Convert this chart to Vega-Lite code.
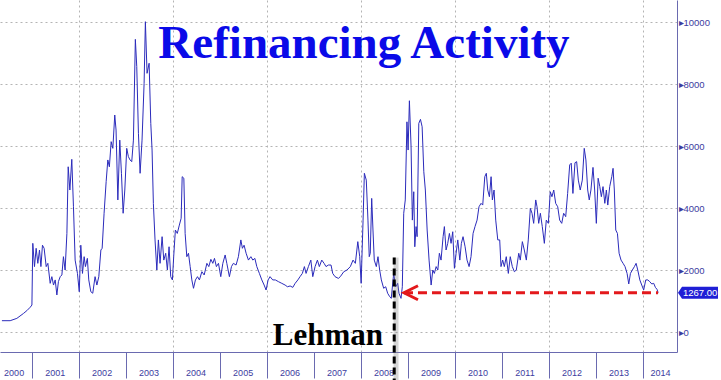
{
  "$schema": "https://vega.github.io/schema/vega-lite/v6.json",
  "width": 677,
  "height": 352,
  "autosize": "none",
  "padding": {"left": 0, "top": 0, "right": 44, "bottom": 28},
  "background": "white",
  "config": {"view": {"stroke": null}},
  "datasets": {
    "refi": [
      {"date":"2000-05-11","index":365},{"date":"2000-07-14","index":365},{"date":"2000-09-04","index":440},{"date":"2000-10-26","index":600},{"date":"2000-11-21","index":690},{"date":"2000-12-17","index":800},{"date":"2000-12-30","index":870},
      {"date":"2001-01-06","index":2860},{"date":"2001-01-19","index":2110},{"date":"2001-02-01","index":2700},{"date":"2001-02-14","index":2215},{"date":"2001-02-27","index":2645},{"date":"2001-03-10","index":2110},{"date":"2001-03-22","index":2800},{"date":"2001-04-04","index":2700},{"date":"2001-04-20","index":2110},{"date":"2001-05-03","index":2215},{"date":"2001-05-21","index":1570},{"date":"2001-06-03","index":1785},{"date":"2001-06-16","index":1515},{"date":"2001-06-29","index":1680},{"date":"2001-07-12","index":1195},{"date":"2001-07-24","index":1625},{"date":"2001-08-07","index":1785},{"date":"2001-08-20","index":1840},{"date":"2001-09-01","index":2430},{"date":"2001-09-14","index":2000},{"date":"2001-09-28","index":3180},{"date":"2001-10-08","index":5330},{"date":"2001-10-21","index":4580},{"date":"2001-11-05","index":5570},{"date":"2001-11-18","index":4040},{"date":"2001-12-01","index":2320},{"date":"2001-12-19","index":1890},
      {"date":"2002-01-02","index":1300},{"date":"2002-01-14","index":2800},{"date":"2002-01-27","index":1890},{"date":"2002-02-09","index":2430},{"date":"2002-02-19","index":2110},{"date":"2002-03-06","index":2375},{"date":"2002-03-17","index":1680},{"date":"2002-04-02","index":1300},{"date":"2002-04-17","index":1250},{"date":"2002-05-05","index":1785},{"date":"2002-05-19","index":1515},{"date":"2002-06-03","index":1785},{"date":"2002-06-19","index":2645},{"date":"2002-06-29","index":2700},{"date":"2002-07-14","index":3830},{"date":"2002-07-30","index":4850},{"date":"2002-08-12","index":5550},{"date":"2002-08-24","index":5330},{"date":"2002-09-07","index":6140},{"date":"2002-09-20","index":5925},{"date":"2002-10-05","index":7000},{"date":"2002-10-15","index":6515},{"date":"2002-10-29","index":4260},{"date":"2002-11-13","index":6190},{"date":"2002-11-26","index":5120},{"date":"2002-12-09","index":3830},{"date":"2002-12-22","index":4580},
      {"date":"2003-01-06","index":5925},{"date":"2003-01-19","index":5655},{"date":"2003-02-01","index":5550},{"date":"2003-02-14","index":5495},{"date":"2003-02-27","index":6190},{"date":"2003-03-14","index":9440},{"date":"2003-03-25","index":8560},{"date":"2003-04-07","index":6410},{"date":"2003-04-20","index":5120},{"date":"2003-05-05","index":6190},{"date":"2003-05-21","index":8020},{"date":"2003-05-31","index":10010},{"date":"2003-06-13","index":8345},{"date":"2003-06-29","index":8670},{"date":"2003-07-12","index":6730},{"date":"2003-07-22","index":5870},{"date":"2003-08-01","index":4150},{"date":"2003-08-14","index":2970},{"date":"2003-08-28","index":2000},{"date":"2003-09-09","index":2970},{"date":"2003-09-22","index":2215},{"date":"2003-10-08","index":3075},{"date":"2003-10-21","index":2320},{"date":"2003-11-05","index":2540},{"date":"2003-11-18","index":2000},{"date":"2003-12-01","index":2750},{"date":"2003-12-14","index":1785},{"date":"2003-12-27","index":1680},
      {"date":"2004-01-06","index":2430},{"date":"2004-01-19","index":3290},{"date":"2004-02-03","index":3180},{"date":"2004-02-19","index":3450},{"date":"2004-03-04","index":3670},{"date":"2004-03-12","index":5010},{"date":"2004-03-25","index":4960},{"date":"2004-04-04","index":3180},{"date":"2004-04-17","index":2430},{"date":"2004-04-30","index":2540},{"date":"2004-05-13","index":2110},{"date":"2004-05-26","index":1680},{"date":"2004-06-08","index":1410},{"date":"2004-06-23","index":1680},{"date":"2004-07-09","index":1785},{"date":"2004-07-24","index":1680},{"date":"2004-08-12","index":1945},{"date":"2004-08-30","index":1840},{"date":"2004-09-20","index":2215},{"date":"2004-10-05","index":2110},{"date":"2004-10-21","index":2345},{"date":"2004-11-05","index":2215},{"date":"2004-11-18","index":2375},{"date":"2004-12-03","index":2110},{"date":"2004-12-19","index":2215},
      {"date":"2005-01-06","index":1785},{"date":"2005-01-22","index":2215},{"date":"2005-02-09","index":2485},{"date":"2005-02-22","index":2215},{"date":"2005-03-14","index":1785},{"date":"2005-03-30","index":2110},{"date":"2005-04-14","index":2215},{"date":"2005-05-05","index":2160},{"date":"2005-05-23","index":2430},{"date":"2005-06-11","index":2970},{"date":"2005-06-23","index":2700},{"date":"2005-07-06","index":2800},{"date":"2005-07-22","index":2540},{"date":"2005-08-09","index":2320},{"date":"2005-08-28","index":2430},{"date":"2005-09-12","index":2320},{"date":"2005-09-28","index":2375},{"date":"2005-10-13","index":2110},{"date":"2005-11-02","index":1890},{"date":"2005-11-21","index":1680},{"date":"2005-12-09","index":1515},{"date":"2005-12-24","index":1355},
      {"date":"2006-01-09","index":1680},{"date":"2006-01-24","index":1785},{"date":"2006-02-14","index":1680},{"date":"2006-03-06","index":1680},{"date":"2006-03-30","index":1625},{"date":"2006-04-25","index":1570},{"date":"2006-05-21","index":1515},{"date":"2006-06-08","index":1460},{"date":"2006-06-29","index":1485},{"date":"2006-07-20","index":1440},{"date":"2006-08-07","index":1570},{"date":"2006-08-28","index":1680},{"date":"2006-09-14","index":1785},{"date":"2006-10-02","index":1890},{"date":"2006-10-18","index":2110},{"date":"2006-10-31","index":1890},{"date":"2006-11-18","index":2110},{"date":"2006-12-07","index":2320},{"date":"2006-12-22","index":1785},
      {"date":"2007-01-09","index":2110},{"date":"2007-01-27","index":2320},{"date":"2007-02-11","index":2110},{"date":"2007-03-02","index":2320},{"date":"2007-03-20","index":2215},{"date":"2007-04-04","index":2110},{"date":"2007-04-22","index":2160},{"date":"2007-05-13","index":2160},{"date":"2007-05-26","index":1890},{"date":"2007-06-13","index":1785},{"date":"2007-07-09","index":1730},{"date":"2007-07-24","index":1785},{"date":"2007-08-20","index":1945},{"date":"2007-09-14","index":2000},{"date":"2007-10-10","index":2110},{"date":"2007-10-31","index":2320},{"date":"2007-11-18","index":2215},{"date":"2007-12-07","index":2915},{"date":"2007-12-22","index":2430},
      {"date":"2008-01-02","index":1570},{"date":"2008-01-17","index":3610},{"date":"2008-01-27","index":5120},{"date":"2008-02-11","index":4900},{"date":"2008-02-24","index":3610},{"date":"2008-03-05","index":2430},{"date":"2008-03-13","index":2540},{"date":"2008-03-24","index":4310},{"date":"2008-04-03","index":3290},{"date":"2008-04-13","index":2320},{"date":"2008-04-29","index":2110},{"date":"2008-05-12","index":2430},{"date":"2008-05-25","index":2000},{"date":"2008-06-07","index":1680},{"date":"2008-06-25","index":1410},{"date":"2008-07-11","index":1460},{"date":"2008-07-26","index":1250},{"date":"2008-08-11","index":1140},{"date":"2008-08-23","index":1085},{"date":"2008-09-11","index":1890},{"date":"2008-09-27","index":1460},{"date":"2008-10-12","index":1570},{"date":"2008-10-22","index":1250},{"date":"2008-11-07","index":1085},{"date":"2008-11-17","index":1460},{"date":"2008-11-28","index":3830},{"date":"2008-12-10","index":4260},{"date":"2008-12-23","index":6780},
      {"date":"2009-01-01","index":5870},{"date":"2009-01-11","index":7460},{"date":"2009-01-24","index":5980},{"date":"2009-02-03","index":3610},{"date":"2009-02-14","index":4525},{"date":"2009-02-22","index":2750},{"date":"2009-03-04","index":3400},{"date":"2009-03-12","index":3075},{"date":"2009-03-25","index":6730},{"date":"2009-04-07","index":6860},{"date":"2009-04-20","index":6620},{"date":"2009-05-03","index":5170},{"date":"2009-05-15","index":4580},{"date":"2009-05-29","index":3290},{"date":"2009-06-13","index":2320},{"date":"2009-06-29","index":1515},{"date":"2009-07-12","index":2000},{"date":"2009-07-24","index":1890},{"date":"2009-08-07","index":2110},{"date":"2009-08-20","index":2000},{"date":"2009-09-01","index":2540},{"date":"2009-09-14","index":2320},{"date":"2009-09-30","index":3075},{"date":"2009-10-10","index":3400},{"date":"2009-10-23","index":2645},{"date":"2009-11-05","index":2860},{"date":"2009-11-18","index":3180},{"date":"2009-12-01","index":2860},{"date":"2009-12-14","index":3235},{"date":"2009-12-27","index":2055},
      {"date":"2010-01-09","index":2540},{"date":"2010-01-22","index":2970},{"date":"2010-02-07","index":2320},{"date":"2010-02-19","index":2860},{"date":"2010-03-04","index":3075},{"date":"2010-03-20","index":2750},{"date":"2010-04-04","index":2320},{"date":"2010-04-20","index":2110},{"date":"2010-05-05","index":2430},{"date":"2010-05-21","index":3180},{"date":"2010-06-05","index":3400},{"date":"2010-06-21","index":3610},{"date":"2010-07-06","index":4040},{"date":"2010-07-22","index":4150},{"date":"2010-08-04","index":4095},{"date":"2010-08-20","index":5010},{"date":"2010-09-01","index":5120},{"date":"2010-09-12","index":4580},{"date":"2010-09-25","index":4365},{"date":"2010-10-08","index":5010},{"date":"2010-10-18","index":4260},{"date":"2010-10-31","index":4580},{"date":"2010-11-13","index":3610},{"date":"2010-11-29","index":2970},{"date":"2010-12-14","index":2970},{"date":"2010-12-24","index":2110},
      {"date":"2011-01-06","index":2320},{"date":"2011-01-19","index":2110},{"date":"2011-02-03","index":2430},{"date":"2011-02-19","index":1890},{"date":"2011-03-06","index":2430},{"date":"2011-03-22","index":2110},{"date":"2011-04-07","index":1945},{"date":"2011-04-22","index":2000},{"date":"2011-05-11","index":2540},{"date":"2011-05-23","index":2320},{"date":"2011-06-08","index":2915},{"date":"2011-06-23","index":2645},{"date":"2011-07-09","index":2320},{"date":"2011-07-24","index":2970},{"date":"2011-08-09","index":3990},{"date":"2011-08-22","index":3830},{"date":"2011-09-04","index":3505},{"date":"2011-09-20","index":4260},{"date":"2011-09-30","index":4040},{"date":"2011-10-13","index":3505},{"date":"2011-10-26","index":3830},{"date":"2011-11-10","index":3400},{"date":"2011-11-26","index":2860},{"date":"2011-12-11","index":3610},{"date":"2011-12-27","index":3505},
      {"date":"2012-01-11","index":4525},{"date":"2012-01-24","index":4365},{"date":"2012-02-07","index":4580},{"date":"2012-02-22","index":4150},{"date":"2012-03-09","index":4040},{"date":"2012-03-24","index":3610},{"date":"2012-04-09","index":3505},{"date":"2012-04-24","index":3830},{"date":"2012-05-10","index":3720},{"date":"2012-05-25","index":4470},{"date":"2012-06-10","index":5390},{"date":"2012-06-22","index":5445},{"date":"2012-07-05","index":4470},{"date":"2012-07-21","index":5460},{"date":"2012-08-03","index":5495},{"date":"2012-08-16","index":4900},{"date":"2012-08-31","index":4580},{"date":"2012-09-16","index":4900},{"date":"2012-10-01","index":5925},{"date":"2012-10-14","index":5550},{"date":"2012-10-28","index":4580},{"date":"2012-11-09","index":4260},{"date":"2012-11-22","index":4580},{"date":"2012-12-08","index":5310},{"date":"2012-12-21","index":4580},
      {"date":"2013-01-03","index":3505},{"date":"2013-01-17","index":4960},{"date":"2013-01-30","index":4690},{"date":"2013-02-11","index":4365},{"date":"2013-02-24","index":4690},{"date":"2013-03-10","index":4150},{"date":"2013-03-22","index":4580},{"date":"2013-04-02","index":4095},{"date":"2013-04-17","index":4690},{"date":"2013-05-03","index":5010},{"date":"2013-05-13","index":5280},{"date":"2013-05-23","index":4580},{"date":"2013-06-03","index":3290},{"date":"2013-06-16","index":3180},{"date":"2013-06-29","index":2540},{"date":"2013-07-14","index":2320},{"date":"2013-07-30","index":2215},{"date":"2013-08-14","index":2110},{"date":"2013-08-30","index":1890},{"date":"2013-09-12","index":1550},{"date":"2013-09-25","index":1890},{"date":"2013-10-10","index":2000},{"date":"2013-10-26","index":2110},{"date":"2013-11-08","index":2215},{"date":"2013-11-21","index":2000},{"date":"2013-12-07","index":1680},{"date":"2013-12-22","index":1515},
      {"date":"2014-01-06","index":1355},{"date":"2014-01-22","index":1680},{"date":"2014-02-07","index":1680},{"date":"2014-02-22","index":1625},{"date":"2014-03-10","index":1550},{"date":"2014-03-25","index":1570},{"date":"2014-04-07","index":1440},{"date":"2014-04-20","index":1375},{"date":"2014-04-28","index":1267}
    ]
  },
  "layer": [
    {
      "data": {"name": "refi"},
      "mark": {"type": "line", "color": "#2b2bbb", "strokeWidth": 1},
      "encoding": {
        "x": {
          "field": "date", "type": "temporal", "title": null,
          "scale": {"type": "utc", "domain": [{"year": 2000, "month": 4, "date": 26, "utc": true}, {"year": 2014, "month": 9, "date": 22, "utc": true}]},
          "axis": {
            "orient": "bottom",
            "values": [{"year": 2000, "month": 4, "date": 27, "utc": true}, {"year": 2001, "utc": true}, {"year": 2002, "utc": true}, {"year": 2003, "utc": true}, {"year": 2004, "utc": true}, {"year": 2005, "utc": true}, {"year": 2006, "utc": true}, {"year": 2007, "utc": true}, {"year": 2008, "utc": true}, {"year": 2009, "utc": true}, {"year": 2010, "utc": true}, {"year": 2011, "utc": true}, {"year": 2012, "utc": true}, {"year": 2013, "utc": true}, {"year": 2014, "utc": true}],
            "labelExpr": "utcFormat(datum.value, '%Y')",
            "tickSize": 26, "tickColor": "#6a6ab0", "tickWidth": 1,
            "tickOpacity": {"condition": {"test": "utcyear(datum.value) == 2000", "value": 0}, "value": 1},
            "domainColor": "#6a6ab0", "domainWidth": 1,
            "labelFont": "Liberation Sans", "labelFontSize": 9, "labelColor": "#3c3ca0",
            "labelBaseline": "middle", "labelAlign": "center", "labelPadding": -6,
            "labelOffset": {"condition": [{"test": "utcyear(datum.value) == 2000", "value": 13.5}, {"test": "utcyear(datum.value) == 2014", "value": 17}], "value": 22.5},
            "labelFlush": false, "labelOverlap": false, "labelBound": false,
            "grid": true, "gridColor": "#b4b4b4", "gridDash": [2, 3],
            "gridOpacity": {"condition": {"test": "utcyear(datum.value) % 2 == 0 && utcmonth(datum.value) == 0", "value": 1}, "value": 0}
          }
        },
        "y": {
          "field": "index", "type": "quantitative", "title": null,
          "scale": {"domain": [-645, 10710], "nice": false, "zero": false},
          "axis": {
            "orient": "right",
            "values": [0, 1000, 2000, 3000, 4000, 5000, 6000, 7000, 8000, 9000, 10000],
            "tickSize": 4, "tickColor": "#6a6ab0",
            "tickOpacity": {"condition": {"test": "datum.value % 2000 == 0", "value": 0}, "value": 1},
            "domainColor": "#6a6ab0",
            "labelExpr": "datum.value % 2000 == 0 ? '▸' + format(datum.value, 'd') : ''",
            "labelFont": "Liberation Sans", "labelFontSize": 9.5, "labelColor": "#3c3ca0",
            "labelPadding": -3, "labelBaseline": "middle", "labelAlign": "left",
            "labelFlush": false, "labelOverlap": false,
            "grid": true, "gridColor": "#b4b4b4", "gridDash": [2, 3],
            "gridOpacity": {"condition": {"test": "datum.value % 2000 == 0", "value": 1}, "value": 0}
          }
        }
      }
    },
    {
      "data": {"values": [{"date": "2008-09-29", "index": 2400, "low": -1550}]},
      "mark": {"type": "rule", "color": "#8a8a8a", "opacity": 0.35, "strokeWidth": 5},
      "encoding": {
        "x": {"field": "date", "type": "temporal", "title": null},
        "y": {"field": "index", "type": "quantitative", "title": null},
        "y2": {"field": "low"}
      }
    },
    {
      "data": {"values": [{"date": "2008-09-15", "index": 2400, "low": -1550}]},
      "mark": {"type": "rule", "color": "#000000", "strokeWidth": 3, "strokeDash": [7, 4]},
      "encoding": {
        "x": {"field": "date", "type": "temporal", "title": null},
        "y": {"field": "index", "type": "quantitative", "title": null},
        "y2": {"field": "low"}
      }
    },
    {
      "data": {"values": [{"date": "2008-06-20", "index": -420, "label": "Lehman"}]},
      "mark": {"type": "text", "font": "Liberation Serif", "fontSize": 31, "fontWeight": "bold", "align": "right", "baseline": "alphabetic", "color": "#000000"},
      "encoding": {
        "x": {"field": "date", "type": "temporal", "title": null},
        "y": {"field": "index", "type": "quantitative", "title": null},
        "text": {"field": "label"}
      }
    },
    {
      "data": {"values": [{"date": "2008-01-24", "index": 8830, "label": "Refinancing Activity"}]},
      "mark": {"type": "text", "font": "Liberation Serif", "fontSize": 47, "fontWeight": "bold", "align": "center", "baseline": "alphabetic", "color": "#0a0ae8"},
      "encoding": {
        "x": {"field": "date", "type": "temporal", "title": null},
        "y": {"field": "index", "type": "quantitative", "title": null},
        "text": {"field": "label"}
      }
    },
    {
      "data": {"values": [{"date": "2008-11-30", "end": "2014-04-28", "index": 1267}]},
      "mark": {"type": "rule", "color": "#e3191c", "strokeWidth": 3, "strokeDash": [9, 5]},
      "encoding": {
        "x": {"field": "date", "type": "temporal", "title": null},
        "x2": {"field": "end"},
        "y": {"field": "index", "type": "quantitative", "title": null}
      }
    },
    {
      "data": {"values": [{"date": "2008-11-30", "index": 1267}]},
      "mark": {"type": "point", "shape": "M14,-7 L0,0 L14,7", "size": 4, "filled": false, "color": "#e3191c", "strokeWidth": 3, "opacity": 1},
      "encoding": {
        "x": {"field": "date", "type": "temporal", "title": null},
        "y": {"field": "index", "type": "quantitative", "title": null}
      }
    },
    {
      "data": {"values": [{"date": "2014-09-22", "index": 1267}]},
      "mark": {"type": "point", "shape": "M1,0 L5,-6 L41,-6 L41,6 L5,6 Z", "size": 4, "filled": true, "color": "#1f1fd6", "opacity": 1},
      "encoding": {
        "x": {"field": "date", "type": "temporal", "title": null},
        "y": {"field": "index", "type": "quantitative", "title": null}
      }
    },
    {
      "data": {"values": [{"date": "2014-09-22", "index": 1267}]},
      "mark": {"type": "text", "font": "Liberation Sans", "fontSize": 9.5, "align": "left", "baseline": "middle", "dx": 6, "color": "#ffffff"},
      "encoding": {
        "x": {"field": "date", "type": "temporal", "title": null},
        "y": {"field": "index", "type": "quantitative", "title": null},
        "text": {"field": "index", "type": "quantitative", "format": ".2f"}
      }
    }
  ]
}
